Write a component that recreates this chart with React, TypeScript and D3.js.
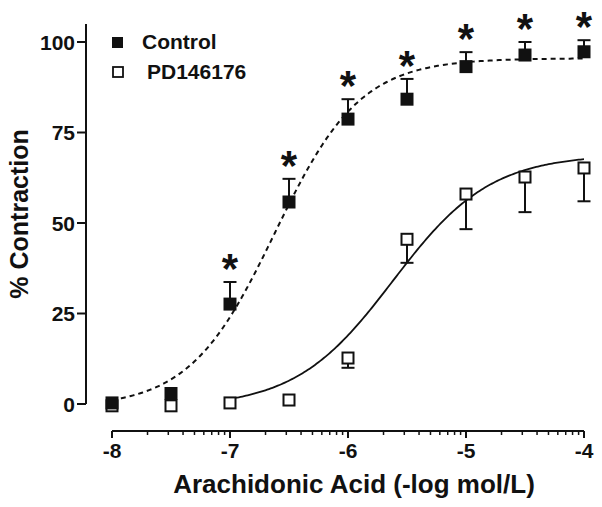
import React from "react";
import * as d3 from "d3";

// ---- data ----
const doses = [-8, -7.5, -7, -6.5, -6, -5.5, -5, -4.5, -4];
const controlMean = [0.3, 2.9, 27.6, 55.8, 78.7, 84.2, 93.2, 96.4, 97.3];
const controlSem = [0, 0, 6.1, 6.4, 5.5, 5.6, 4.0, 3.6, 3.2];
const controlStar = [false, false, true, true, true, true, true, true, true];
const pdMean = [-0.5, -0.5, 0.3, 1.1, 12.7, 45.5, 58.0, 62.7, 65.2];
const pdSem = [0, 0, 0, 0, 2.7, 6.5, 9.7, 9.7, 9.2];
const xTicks = [-8, -7, -6, -5, -4];
const yTicks = [0, 25, 50, 75, 100];
const seriesNames = ["Control", "PD146176"];
// fitted sigmoid (Hill) parameters: bottom, top, logEC50, slope, fit range
const controlFit = { bottom: -1, top: 95.5, logEC50: -6.62, slope: 1.2, from: -8, to: -4 };
const pdFit = { bottom: -1, top: 69, logEC50: -5.62, slope: 1.05, from: -7, to: -4 };

const W = 602;
const H = 507;
const FONT = "'Liberation Sans', Arial, Helvetica, sans-serif";
const INK = "#111";

function hill(p: typeof controlFit, x: number) {
  return p.bottom + (p.top - p.bottom) / (1 + Math.pow(10, (p.logEC50 - x) * p.slope));
}

export default function App() {
  const x = d3.scaleLinear().domain([-8, -4]).range([112, 584]);
  const y = d3.scaleLinear().domain([0, 100]).range([404, 42]);

  const fitPts = (p: typeof controlFit) =>
    d3.range(0, 201).map((i) => {
      const xv = p.from + ((p.to - p.from) * i) / 200;
      return [xv, hill(p, xv)] as [number, number];
    });
  const line = d3
    .line<[number, number]>()
    .x((d) => x(d[0]))
    .y((d) => y(d[1]));

  const minorTicks: number[] = [];
  for (let dec = -8; dec < -4; dec++) {
    for (let k = 2; k <= 9; k++) minorTicks.push(dec + Math.log10(k));
  }

  const sq = 13;
  const cap = 6.5;

  return (
    <svg
      width={W}
      height={H}
      style={{ position: "absolute", left: 0, top: 0, background: "#fff" }}
      fontFamily={FONT}
      fontWeight="bold"
    >
      <rect width={W} height={H} fill="#fff" />
      {/* Y axis */}
      <line x1={86} x2={86} y1={y(0)} y2={y(105)} stroke={INK} strokeWidth={2} />
      {yTicks.map((t) => (
        <g key={t}>
          <line x1={77} x2={86} y1={y(t)} y2={y(t)} stroke={INK} strokeWidth={2} />
          <text x={75} y={y(t)} dy="0.36em" textAnchor="end" fontSize={21} fill={INK}>
            {t}
          </text>
        </g>
      ))}
      <text
        transform={`translate(28, ${(y(0) + y(105)) / 2}) rotate(-90)`}
        textAnchor="middle"
        fontSize={25}
        fill={INK}
      >
        % Contraction
      </text>

      {/* X axis */}
      <line x1={x(-8)} x2={x(-4)} y1={431} y2={431} stroke={INK} strokeWidth={2} />
      {minorTicks.map((t, i) => (
        <line key={i} x1={x(t)} x2={x(t)} y1={431} y2={435} stroke={INK} strokeWidth={1.5} />
      ))}
      {xTicks.map((t) => (
        <g key={t}>
          <line x1={x(t)} x2={x(t)} y1={431} y2={438} stroke={INK} strokeWidth={2} />
          <text x={x(t)} y={458} textAnchor="middle" fontSize={21} fill={INK}>
            {t}
          </text>
        </g>
      ))}
      <text x={354} y={493} textAnchor="middle" fontSize={26} fill={INK}>
        Arachidonic Acid (-log mol/L)
      </text>

      {/* PD146176 series */}
      {doses.map((d, i) =>
        pdSem[i] > 0 ? (
          <g key={"pe" + i}>
            <line x1={x(d)} x2={x(d)} y1={y(pdMean[i])} y2={y(pdMean[i] - pdSem[i])} stroke={INK} strokeWidth={2} />
            <line x1={x(d) - cap} x2={x(d) + cap} y1={y(pdMean[i] - pdSem[i])} y2={y(pdMean[i] - pdSem[i])} stroke={INK} strokeWidth={2} />
          </g>
        ) : null
      )}
      <path d={line(fitPts(pdFit)) || ""} fill="none" stroke={INK} strokeWidth={1.8} />
      {doses.map((d, i) => (
        <rect
          key={"ps" + i}
          x={x(d) - sq / 2 + 1}
          y={y(pdMean[i]) - sq / 2 + 1}
          width={sq - 2}
          height={sq - 2}
          fill="#fff"
          stroke={INK}
          strokeWidth={2}
        />
      ))}

      {/* Control series */}
      {doses.map((d, i) =>
        controlSem[i] > 0 ? (
          <g key={"ce" + i}>
            <line x1={x(d)} x2={x(d)} y1={y(controlMean[i])} y2={y(controlMean[i] + controlSem[i])} stroke={INK} strokeWidth={2} />
            <line x1={x(d) - cap} x2={x(d) + cap} y1={y(controlMean[i] + controlSem[i])} y2={y(controlMean[i] + controlSem[i])} stroke={INK} strokeWidth={2} />
          </g>
        ) : null
      )}
      <path d={line(fitPts(controlFit)) || ""} fill="none" stroke={INK} strokeWidth={2} strokeDasharray="5,4" />
      {doses.map((d, i) => (
        <rect key={"cs" + i} x={x(d) - sq / 2} y={y(controlMean[i]) - sq / 2} width={sq} height={sq} fill={INK} />
      ))}
      {doses.map((d, i) =>
        controlStar[i] ? (
          <text key={"st" + i} x={x(d)} y={y(controlMean[i] + controlSem[i]) + 1} textAnchor="middle" fontSize={42} fill={INK}>
            *
          </text>
        ) : null
      )}

      {/* Legend */}
      <rect x={112} y={37} width={11} height={11} fill={INK} />
      <text x={142} y={49} fontSize={21} fill={INK}>
        {seriesNames[0]}
      </text>
      <rect x={113} y={67} width={10} height={10} fill="#fff" stroke={INK} strokeWidth={1.8} />
      <text x={147} y={79} fontSize={21} fill={INK}>
        {seriesNames[1]}
      </text>
    </svg>
  );
}
